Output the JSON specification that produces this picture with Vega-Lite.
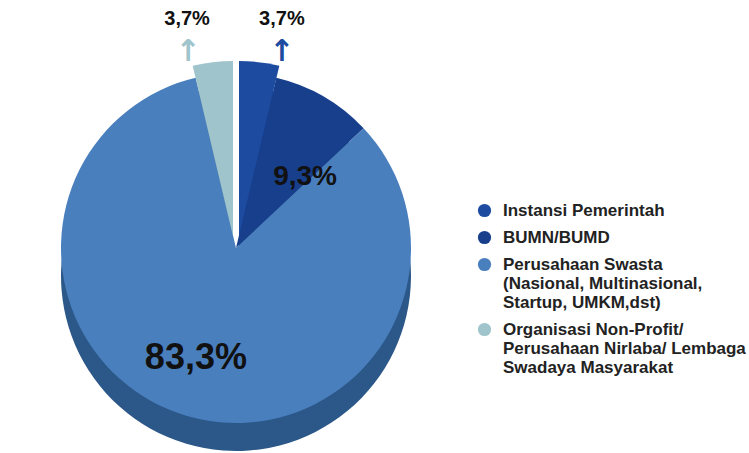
{
  "$schema": "https://vega.github.io/schema/vega-lite/v6.json",
  "autosize": {"type": "none"},
  "width": 472,
  "height": 400,
  "padding": {"left": 0, "top": 48, "right": 277, "bottom": 5},
  "background": "white",
  "data": {
    "values": [
      {"kategori": "Instansi Pemerintah", "persen": 3.7, "label": "3,7%", "urutan": 1},
      {"kategori": "BUMN/BUMD", "persen": 9.3, "label": "9,3%", "urutan": 2},
      {"kategori": "Perusahaan Swasta\n(Nasional, Multinasional,\nStartup, UMKM,dst)", "persen": 83.3, "label": "83,3%", "urutan": 3},
      {"kategori": "Organisasi Non-Profit/\nPerusahaan Nirlaba/ Lembaga\nSwadaya Masyarakat", "persen": 3.7, "label": "3,7%", "urutan": 4}
    ]
  },
  "transform": [
    {"stack": "persen", "groupby": [], "sort": [{"field": "urutan", "order": "ascending"}], "as": ["v0", "v1"]},
    {"calculate": "(datum.v0 + datum.v1) / 2", "as": "mid"}
  ],
  "layer": [
    {
      "transform": [{"filter": "datum.urutan == 2 || datum.urutan == 3"}],
      "mark": {"type": "arc", "outerRadius": 175, "yOffset": 28},
      "encoding": {
        "theta": {"field": "v0", "type": "quantitative", "scale": {"domain": [0, 100]}},
        "theta2": {"field": "v1"},
        "fill": {"field": "urutan", "type": "nominal", "legend": null,
          "scale": {"domain": [1, 2, 3, 4], "range": ["#143a80", "#0f2f6a", "#2b5888", "#6f9199"]}}
      }
    },
    {
      "transform": [{"filter": "datum.urutan == 1"}],
      "mark": {"type": "arc", "outerRadius": 175, "yOffset": 16, "xOffset": 3},
      "encoding": {
        "theta": {"field": "v0", "type": "quantitative", "scale": {"domain": [0, 100]}},
        "theta2": {"field": "v1"},
        "fill": {"field": "urutan", "type": "nominal", "legend": null}
      }
    },
    {
      "transform": [{"filter": "datum.urutan == 4"}],
      "mark": {"type": "arc", "outerRadius": 175, "yOffset": 16, "xOffset": -3},
      "encoding": {
        "theta": {"field": "v0", "type": "quantitative", "scale": {"domain": [0, 100]}},
        "theta2": {"field": "v1"},
        "fill": {"field": "urutan", "type": "nominal", "legend": null}
      }
    },
    {
      "transform": [{"filter": "datum.urutan == 2 || datum.urutan == 3"}],
      "mark": {"type": "arc", "outerRadius": 175},
      "encoding": {
        "theta": {"field": "v0", "type": "quantitative", "scale": {"domain": [0, 100]}},
        "theta2": {"field": "v1"},
        "color": {"field": "kategori", "type": "nominal",
          "scale": {"domain": ["Instansi Pemerintah", "BUMN/BUMD", "Perusahaan Swasta\n(Nasional, Multinasional,\nStartup, UMKM,dst)", "Organisasi Non-Profit/\nPerusahaan Nirlaba/ Lembaga\nSwadaya Masyarakat"],
                    "range": ["#1d4ba0", "#173f8c", "#4a7fbe", "#9fc4cc"]},
          "legend": {
            "title": null,
            "orient": "none",
            "legendX": 476,
            "legendY": 154,
            "symbolType": "circle",
            "symbolSize": 175,
            "symbolStrokeWidth": 0,
            "labelFont": "Liberation Sans",
            "labelFontSize": 17,
            "labelFontWeight": "bold",
            "labelColor": "#222222",
            "labelLimit": 400,
            "labelExpr": "split(datum.label, '\\n')",
            "rowPadding": 9,
            "labelOffset": 10
          }
        }
      }
    },
    {
      "transform": [{"filter": "datum.urutan == 1"}],
      "mark": {"type": "arc", "outerRadius": 175, "yOffset": -12, "xOffset": 3},
      "encoding": {
        "theta": {"field": "v0", "type": "quantitative", "scale": {"domain": [0, 100]}},
        "theta2": {"field": "v1"},
        "color": {"field": "kategori", "type": "nominal"}
      }
    },
    {
      "transform": [{"filter": "datum.urutan == 4"}],
      "mark": {"type": "arc", "outerRadius": 175, "yOffset": -12, "xOffset": -3},
      "encoding": {
        "theta": {"field": "v0", "type": "quantitative", "scale": {"domain": [0, 100]}},
        "theta2": {"field": "v1"},
        "color": {"field": "kategori", "type": "nominal"}
      }
    },
    {
      "transform": [{"filter": "datum.urutan == 3"}],
      "mark": {"type": "text", "radius": 108, "font": "Liberation Sans", "fontSize": 36, "fontWeight": "bold", "color": "#111111", "dx": -9, "dy": 7},
      "encoding": {
        "theta": {"field": "mid", "type": "quantitative", "stack": null, "scale": {"domain": [0, 100]}},
        "text": {"field": "label"}
      }
    },
    {
      "transform": [{"filter": "datum.urutan == 2"}],
      "mark": {"type": "text", "radius": 112, "font": "Liberation Sans", "fontSize": 28, "fontWeight": "bold", "color": "#111111", "dx": 13, "dy": 26},
      "encoding": {
        "theta": {"field": "mid", "type": "quantitative", "stack": null, "scale": {"domain": [0, 100]}},
        "text": {"field": "label"}
      }
    },
    {
      "transform": [{"filter": "datum.urutan == 1"}],
      "mark": {"type": "text", "radius": 232, "font": "Liberation Sans", "fontSize": 20, "fontWeight": "bold", "color": "#111111", "dx": 19, "dy": 1},
      "encoding": {
        "theta": {"field": "mid", "type": "quantitative", "stack": null, "scale": {"domain": [0, 100]}},
        "text": {"field": "label"}
      }
    },
    {
      "transform": [{"filter": "datum.urutan == 4"}],
      "mark": {"type": "text", "radius": 232, "font": "Liberation Sans", "fontSize": 20, "fontWeight": "bold", "color": "#111111", "dx": -22, "dy": 1},
      "encoding": {
        "theta": {"field": "mid", "type": "quantitative", "stack": null, "scale": {"domain": [0, 100]}},
        "text": {"field": "label"}
      }
    },
    {
      "transform": [{"filter": "datum.urutan == 1"}],
      "mark": {"type": "text", "radius": 197, "font": "DejaVu Sans", "fontSize": 30, "fontWeight": "bold", "color": "#1d4ba0", "dx": 23},
      "encoding": {
        "theta": {"field": "mid", "type": "quantitative", "stack": null, "scale": {"domain": [0, 100]}},
        "text": {"value": "↑"}
      }
    },
    {
      "transform": [{"filter": "datum.urutan == 4"}],
      "mark": {"type": "text", "radius": 197, "font": "DejaVu Sans", "fontSize": 30, "fontWeight": "bold", "color": "#9fc4cc", "dx": -25},
      "encoding": {
        "theta": {"field": "mid", "type": "quantitative", "stack": null, "scale": {"domain": [0, 100]}},
        "text": {"value": "↑"}
      }
    }
  ]
}
